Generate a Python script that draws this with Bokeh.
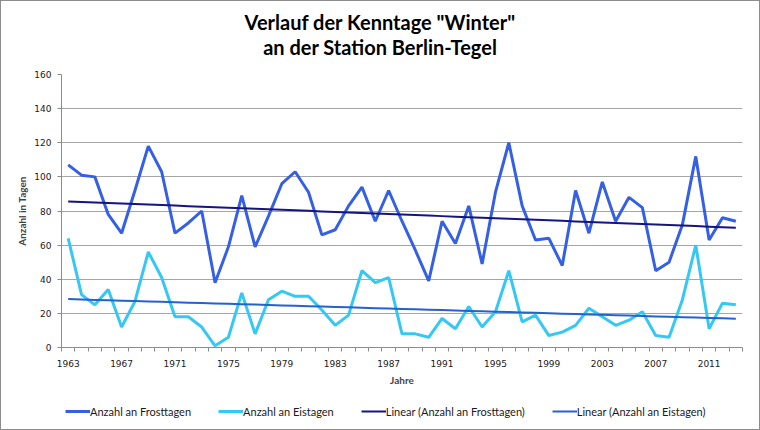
import numpy as np
from bokeh.plotting import figure
from bokeh.layouts import column
from bokeh.core.properties import value
from bokeh.models import FixedTicker, Legend, LegendItem, Range1d
from bokeh.embed import file_html
from bokeh.resources import INLINE

# Kenntage "Winter", Station Berlin-Tegel
years = list(range(1963, 2014))
frosttage = [107, 101, 100, 78, 67, 92, 118, 103, 67, 73,
             80, 38, 59, 89, 59, 77, 96, 103, 91, 66,
             69, 83, 94, 74, 92, 74, 57, 39, 74, 61,
             83, 49, 91, 120, 83, 63, 64, 48, 92, 67,
             97, 74, 88, 82, 45, 50, 72, 112, 63, 76,
             74]
eistage = [64, 31, 25, 34, 12, 27, 56, 41, 18, 18,
           12, 1, 6, 32, 8, 28, 33, 30, 30, 22,
           13, 19, 45, 38, 41, 8, 8, 6, 17, 11,
           24, 12, 21, 45, 15, 19, 7, 9, 13, 23,
           18, 13, 16, 21, 7, 6, 28, 60, 11, 26,
           25]
year_ticks = list(range(1963, 2012, 4))
value_ticks = list(range(0, 161, 20))
series_labels = ["Anzahl an Frosttagen", "Anzahl an Eistagen",
                 "Linear (Anzahl an Frosttagen)", "Linear (Anzahl an Eistagen)"]
title_text = 'Verlauf der Kenntage "Winter"\nan der Station Berlin-Tegel'

# linear trends (least squares)
trend_frost = np.polyval(np.polyfit(years, frosttage, 1), years)
trend_eis = np.polyval(np.polyfit(years, eistage, 1), years)

series = [frosttage, eistage, trend_frost, trend_eis]
colors = ["#3560E6", "#35C8F5", "#141482", "#2462CC"]
widths = [3, 3, 2, 2]
axis_grey = "#8c8c8c"
W = 758


def strip(fig):
    fig.outline_line_color = None
    fig.background_fill_color = "white"
    fig.border_fill_color = "white"
    return fig


# --- header with the two-line title (the column aligns its frame with the chart's,
#     so the x position shifts the title back to the middle of the whole page)
head = strip(figure(width=W, height=63, output_backend="svg", toolbar_location=None,
                    x_range=Range1d(0, 1), y_range=Range1d(0, 1),
                    x_axis_type=None, y_axis_type=None, min_border=0))
head.text(x=[0.468], y=[0.476], text=[title_text], text_align="center",
          text_baseline="middle", text_font=value("Lato"), text_font_style="bold",
          text_font_size="20px", text_line_height=1.05, text_color="#000000")

# --- main chart
p = strip(figure(width=W, height=327, output_backend="svg", toolbar_location=None,
                 x_range=Range1d(years[0] - 0.5, years[-1] + 0.5), y_range=Range1d(0, 160),
                 min_border_left=60, min_border_right=17,
                 min_border_top=10, min_border_bottom=44))

for ys, c, w in zip(series, colors, widths):
    p.line(years, ys, line_color=c, line_width=w)

p.xgrid.visible = False
p.ygrid.grid_line_color = "#a6a6a6"
p.ygrid.grid_line_width = 1

# x axis: category boundaries as ticks, every 4th year labelled
xa = p.xaxis[0]
xa.ticker = FixedTicker(ticks=year_ticks,
                        minor_ticks=[y - 0.5 for y in years] + [years[-1] + 0.5])
xa.major_tick_out = 0
xa.major_tick_in = 0
xa.minor_tick_out = 4
xa.minor_tick_in = 0
xa.minor_tick_line_color = axis_grey
xa.axis_line_color = axis_grey
xa.major_label_standoff = 8
xa.major_label_text_font = "DejaVu Sans"
xa.major_label_text_font_size = "9px"
xa.major_label_text_color = "#1a1a1a"
xa.axis_label = "Jahre"
xa.axis_label_text_font = "Lato"
xa.axis_label_text_font_style = "bold"
xa.axis_label_text_font_size = "10px"
xa.axis_label_standoff = 4

ya = p.yaxis[0]
ya.ticker = FixedTicker(ticks=value_ticks, minor_ticks=[])
ya.major_tick_out = 4
ya.major_tick_in = 0
ya.major_tick_line_color = axis_grey
ya.axis_line_color = axis_grey
ya.major_label_standoff = 6
ya.major_label_text_font = "DejaVu Sans"
ya.major_label_text_font_size = "9px"
ya.major_label_text_color = "#1a1a1a"
ya.axis_label = "Anzahl in Tagen"
ya.axis_label_text_font = "Lato"
ya.axis_label_text_font_style = "bold"
ya.axis_label_text_font_size = "10px"
ya.axis_label_standoff = 3

# --- legend strip underneath (its lines lie outside the visible range)
foot = strip(figure(width=W, height=38, output_backend="svg", toolbar_location=None,
                    x_range=Range1d(0, 1), y_range=Range1d(0, 1),
                    x_axis_type=None, y_axis_type=None, min_border=0))
items = []
for ys, c, w, lab in zip(series, colors, widths, series_labels):
    r = foot.line(years, ys, line_color=c, line_width=w)
    items.append(LegendItem(label=lab, renderers=[r]))

legend = Legend(items=items, orientation="horizontal", location=(4, 10))
legend.glyph_width = 25
legend.glyph_height = 16
legend.label_height = 16
legend.label_standoff = 0
legend.spacing = 27
legend.padding = 0
legend.margin = 0
legend.border_line_color = None
legend.background_fill_alpha = 0
legend.label_text_font = "Lato"
legend.label_text_font_size = "11px"
legend.label_text_color = "#1a1a1a"
foot.add_layout(legend, "center")

layout = column(head, p, foot, spacing=0, styles={"border": "1px solid #8c8c8c"})

open("out.html", "w").write(file_html(layout, INLINE))
